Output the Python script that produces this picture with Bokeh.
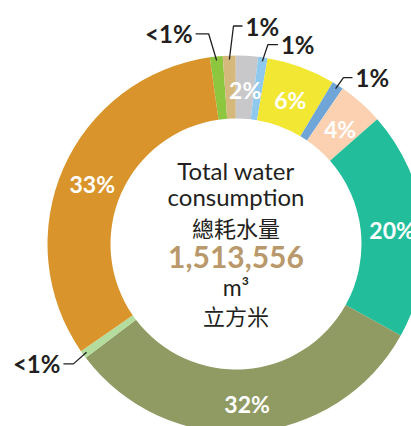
import math
from bokeh.plotting import figure
from bokeh.models import Range1d
from bokeh.core.properties import value
from bokeh.embed import file_html
from bokeh.resources import INLINE

# ---- data, clockwise from just left of 12 o'clock ----
segments = ["Use A", "Use B", "Use C", "Use D", "Use E", "Use F",
            "Use G", "Use H", "Use I", "Use J", "Use K"]
shares = [1.1, 1.1, 1.9, 0.8, 5.9, 1.0, 3.9, 19.6, 31.6, 0.7, 32.4]
pct_labels = ["<1%", "1%", "2%", "1%", "6%", "1%", "4%", "20%", "32%", "<1%", "33%"]
colors = ["#8DC63F", "#D5B97C", "#C8C8CA", "#8FC9EE", "#F2E834", "#6FA5D7",
          "#FBD1B2", "#22BD9B", "#8F9B63", "#B4DC9C", "#D9952B"]
center_lines = ["Total water", "consumption", "總耗水量", "1,513,556", "m³", "立方米"]

# ---- layout ----
OFF = 0                        # page offset of the figure
CX, CY = 235.5, 243.5          # ring centre in page pixels
R_IN, R_OUT = 125.5, 188.5
START_DEG = -8.0               # clockwise from 12 o'clock
W, H = 411, 426
DARK = "#231F20"
FONT = "Lato"

p = figure(width=W, height=H, output_backend="svg", toolbar_location=None,
           x_range=Range1d(OFF - CX, OFF + W - CX),
           y_range=Range1d(CY - OFF - H, CY - OFF),
           min_border=0, outline_line_color=None)
p.axis.visible = False
p.grid.visible = False
p.background_fill_color = "white"

total = sum(shares)
starts, ends, mids = [], [], []
acc = START_DEG
for s in shares:
    a0 = acc
    a1 = acc + s / total * 360.0
    starts.append(math.radians(90 - a0))
    ends.append(math.radians(90 - a1))
    mids.append((a0 + a1) / 2)
    acc = a1

p.annular_wedge(x=0, y=0, inner_radius=R_IN, outer_radius=R_OUT,
                start_angle=starts, end_angle=ends, direction="clock",
                fill_color=colors, line_color=None)

def polar(r, deg):
    t = math.radians(deg)
    return r * math.sin(t), r * math.cos(t)

# inside labels
ix, iy, itxt = [], [], []
for s, m, t in zip(shares, mids, pct_labels):
    if s >= 1.5:
        x, y = polar((R_IN + R_OUT) / 2, m)
        ix.append(x); iy.append(y - 3); itxt.append(t)
p.text(x=ix, y=iy, text=itxt, text_font=value(FONT), text_font_style="bold",
       text_font_size="23px", text_color="white", text_align="center",
       text_baseline="middle")

# outside labels with leader lines: index -> (elbow radius, angle shift, arm length)
callouts = {0: (212, -1.4, -13), 1: (218, 1.4, 9), 3: (202, 0.9, 10),
            5: (198, 0.2, 9), 9: (202, -0.5, -10)}
lxs, lys, ox, oy, otxt, oal = [], [], [], [], [], []
for i, (er, sh, arm) in callouts.items():
    x0, y0 = polar(R_OUT - 4, mids[i])
    x1, y1 = polar(er, mids[i] + sh)
    x2 = x1 + arm
    lxs.append([x0, x1, x2]); lys.append([y0, y1, y1])
    ox.append(x2 + (3 if arm > 0 else -3)); oy.append(y1)
    otxt.append(pct_labels[i]); oal.append("left" if arm > 0 else "right")
p.multi_line(xs=lxs, ys=lys, line_color=DARK, line_width=1.3)
p.text(x=ox, y=oy, text=otxt, text_font=value(FONT), text_font_style="bold",
       text_font_size="24px", text_color=DARK, text_align=oal,
       text_baseline="middle")

# centre text
baselines = [170, 196, 226, 256, 286, 314]
fonts = [FONT, FONT, "Noto Sans CJK TC", FONT, FONT, "Noto Sans CJK TC"]
sizes = ["24px", "24px", "22px", "30px", "23px", "22px"]
styles = ["normal", "normal", "normal", "bold", "normal", "normal"]
tcolors = [DARK, DARK, DARK, "#B9996B", DARK, DARK]
for t, b, f, sz, st, c in zip(center_lines, baselines, fonts, sizes, styles, tcolors):
    p.text(x=[0], y=[CY - b], text=[t], text_font=value(f), text_font_size=sz,
           text_font_style=st, text_color=c, text_align="center",
           text_baseline="alphabetic")

open("out.html", "w").write(file_html(p, INLINE))
